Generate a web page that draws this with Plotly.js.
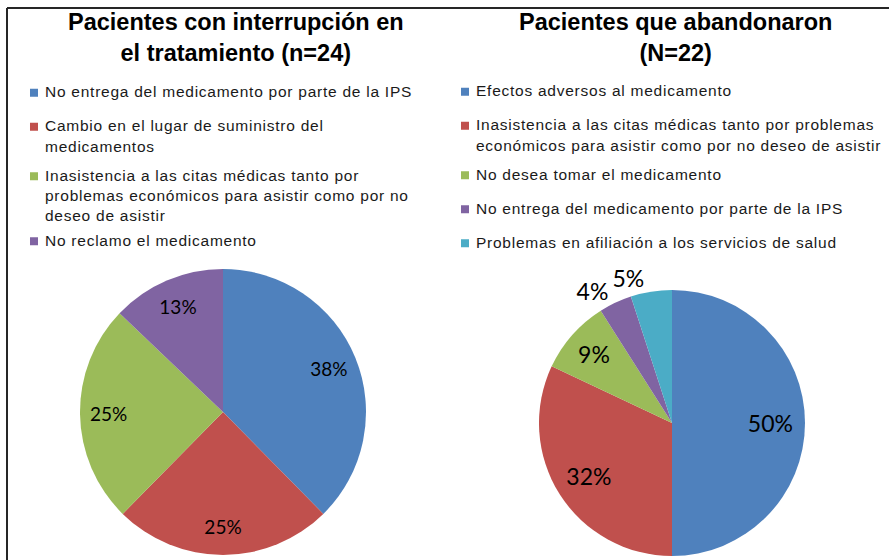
<!DOCTYPE html>
<html>
<head>
<meta charset="utf-8">
<script src="https://cdn.plot.ly/plotly-3.0.1.min.js"></script>
<style>
html,body{margin:0;padding:0;background:#fff;}
#chart{width:889px;height:560px;}
text.legendtext, text.legend2text{font-size:15.5px !important;letter-spacing:0.75px;}
.legendpie{transform:translate(29px,0px) scale(0.667);}
</style>
</head>
<body>
<div id="chart"></div>
<script>
// Left chart: Pacientes con interrupción en el tratamiento (n=24)
const leftLabels = [
  "No entrega del medicamento por parte de la IPS",
  "Cambio en el lugar de suministro del<br>medicamentos",
  "Inasistencia a las citas médicas tanto por<br>problemas económicos para asistir como por no<br>deseo de asistir",
  "No reclamo el medicamento"
];
const leftValues = [38, 25, 25, 13];

// Right chart: Pacientes que abandonaron (N=22)
const rightLabels = [
  "Efectos adversos al medicamento",
  "Inasistencia a las citas médicas tanto por problemas<br>económicos para asistir como por no deseo de asistir",
  "No desea tomar el medicamento",
  "No entrega del medicamento por parte de la IPS",
  "Problemas en afiliación a los servicios de salud"
];
const rightValues = [50, 32, 9, 4, 5];

const leftTitle = "Pacientes con interrupción en<br>el tratamiento (n=24)";
const rightTitle = "Pacientes que abandonaron<br>(N=22)";

const colors = ["#4F81BD", "#C0504D", "#9BBB59", "#8064A2", "#4BACC6"];

// legend entries: a spacer line below each entry; an extra blank keeps the
// right-hand legend entries distinct from the left-hand ones
const spacer = "<br>\u00a0";
const leftLegend = leftLabels.map(s => s + spacer);
const rightLegend = rightLabels.map(s => s + spacer + "\u00a0");

const clear = v => v.map(() => "rgba(0,0,0,0)");
const labelFont = size => ({family: "Lato, sans-serif", size: size, color: "#000"});

const leftDomain = {x: [80/889, 366/889], y: [5/560, 291/560]};
const rightDomain = {x: [539/889, 805/889], y: [4/560, 270/560]};

const base = {type: "pie", sort: false, direction: "clockwise", rotation: 0, hoverinfo: "skip"};

const traces = [
  // left pie (colours + legend)
  Object.assign({}, base, {
    labels: leftLegend, values: leftValues,
    marker: {colors: colors.slice(0, 4), line: {width: 0}},
    textinfo: "none", domain: leftDomain, legend: "legend"
  }),
  // left pie labels
  Object.assign({}, base, {
    labels: leftLegend, values: leftValues, hole: 0.6, showlegend: false,
    marker: {colors: clear(leftValues), line: {width: 0}},
    texttemplate: "%{value}%", textposition: "inside", insidetextorientation: "horizontal",
    insidetextfont: labelFont(19), domain: leftDomain
  }),
  // right pie (colours + legend)
  Object.assign({}, base, {
    labels: rightLegend, values: rightValues,
    marker: {colors: colors, line: {width: 0}},
    textinfo: "none", domain: rightDomain, legend: "legend2"
  }),
  // right pie inside labels
  Object.assign({}, base, {
    labels: rightLegend, values: rightValues, hole: 0.48, showlegend: false,
    marker: {colors: clear(rightValues), line: {width: 0}},
    texttemplate: rightValues.map((v, i) => i < 3 ? "%{value}%" : ""),
    textposition: "inside", insidetextorientation: "horizontal",
    insidetextfont: labelFont(23), domain: rightDomain
  }),
  // right pie outside labels (one trace each, so no leader lines)
  Object.assign({}, base, {
    labels: rightLegend, values: rightValues, showlegend: false,
    marker: {colors: clear(rightValues), line: {width: 0}},
    texttemplate: rightValues.map((v, i) => i === 3 ? "%{value}%" : ""),
    textposition: "outside", outsidetextfont: labelFont(23), domain: rightDomain
  }),
  Object.assign({}, base, {
    labels: rightLegend, values: rightValues, showlegend: false,
    marker: {colors: clear(rightValues), line: {width: 0}},
    texttemplate: rightValues.map((v, i) => i === 4 ? "%{value}%" : ""),
    textposition: "outside", outsidetextfont: labelFont(23), domain: rightDomain
  })
];

const legendFont = () => ({family: "Liberation Sans, Arial, sans-serif", size: 11.92, color: "#1a1a1a"});

const layout = {
  width: 889,
  height: 560,
  margin: {l: 0, r: 0, t: 0, b: 0},
  paper_bgcolor: "#fff",
  showlegend: true,
  legend: {x: 5/889, y: 1 - 78.5/560, xanchor: "left", yanchor: "top", valign: "top", font: legendFont(), bgcolor: "rgba(0,0,0,0)"},
  legend2: {x: 436/889, y: 1 - 77.5/560, xanchor: "left", yanchor: "top", valign: "top", font: legendFont(), bgcolor: "rgba(0,0,0,0)"},
  annotations: [
    {text: leftTitle, xref: "paper", yref: "paper", x: 236/889, y: 1 - 38/560, xanchor: "center", yanchor: "middle",
     showarrow: false, font: {family: "Liberation Sans, Arial, sans-serif", size: 23.5, color: "#000", weight: "bold"}},
    {text: rightTitle, xref: "paper", yref: "paper", x: 675/889, y: 1 - 38/560, xanchor: "center", yanchor: "middle",
     showarrow: false, font: {family: "Liberation Sans, Arial, sans-serif", size: 23.5, color: "#000", weight: "bold"}}
  ],
  shapes: [
    {type: "line", xref: "paper", yref: "paper", x0: 7/889, x1: 1, y0: 1 - 8/560, y1: 1 - 8/560, line: {color: "#262626", width: 2}},
    {type: "line", xref: "paper", yref: "paper", x0: 7/889, x1: 7/889, y0: 0, y1: 1 - 8/560, line: {color: "#262626", width: 2}}
  ]
};

Plotly.newPlot("chart", traces, layout, {displayModeBar: false, staticPlot: true});
</script>
</body>
</html>
